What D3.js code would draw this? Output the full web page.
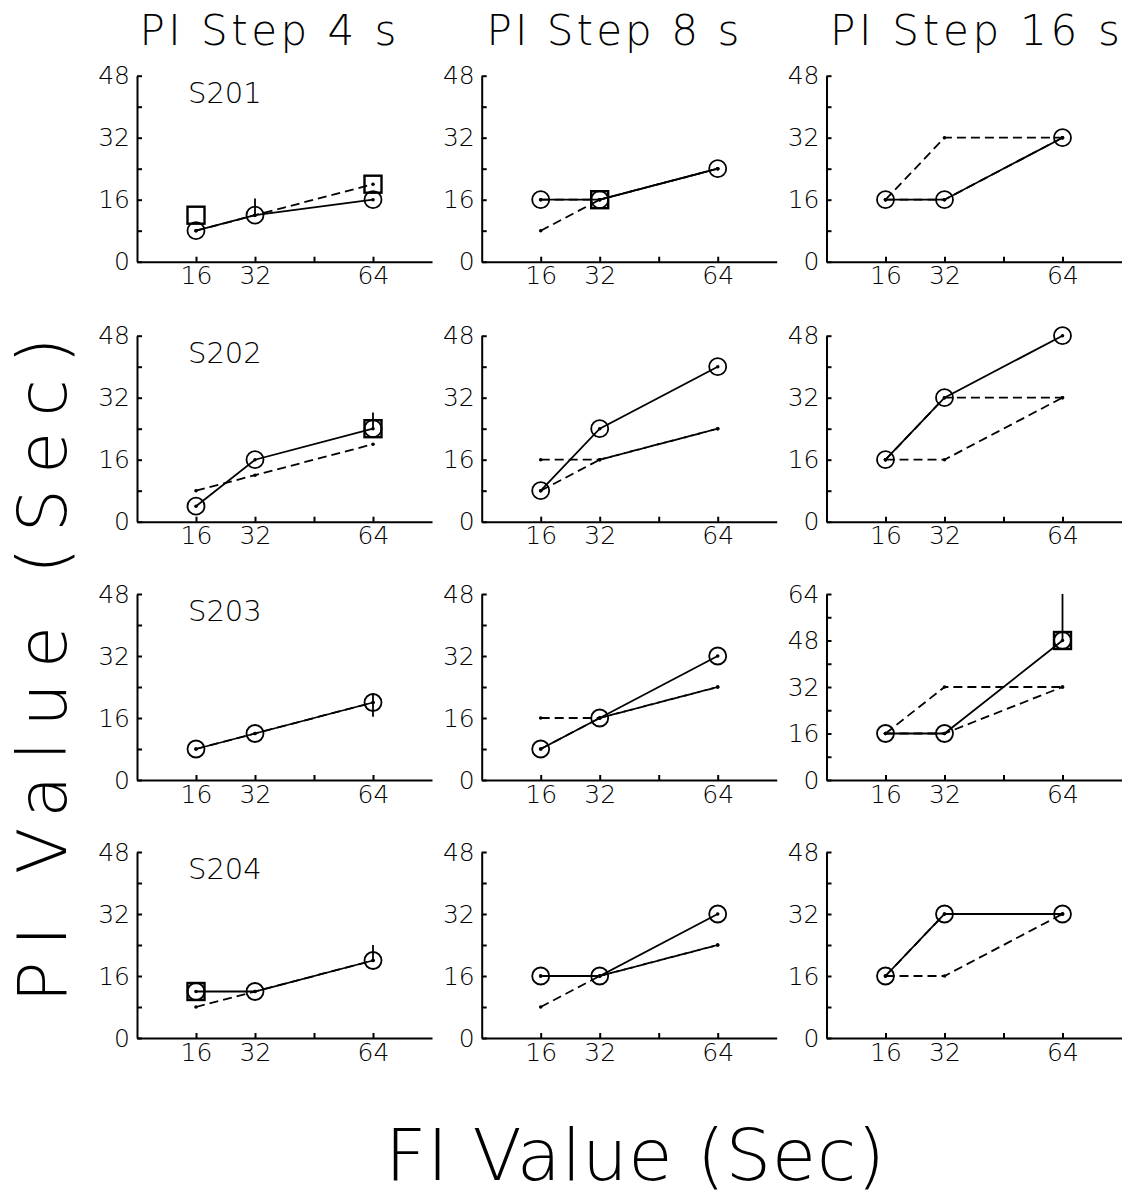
<!DOCTYPE html>
<html>
<head>
<meta charset="utf-8">
<script src="https://cdn.jsdelivr.net/npm/d3@7"></script>
<style>
  body { margin: 0; background: #fff; }
  svg { font-family: "DejaVu Sans", sans-serif; font-weight: 200; }
  .axis path, .axis line { stroke: #000; stroke-width: 2; }
  .axis text { font-family: "DejaVu Sans", sans-serif; font-weight: 200; font-size: 25px; fill: #000; }
</style>
</head>
<body>
<svg id="chart" width="1138" height="1201"></svg>
<script>
// values
const fiValues = [16, 32, 64];
const xLabelTicks = [16, 32, 64];
const stepLabels = ["PI Step 4 s", "PI Step 8 s", "PI Step 16 s"];
const subjects = ["S201", "S202", "S203", "S204"];

// obtained PI (circles, solid line), rows = subjects, cols = steps
const obtained = [
  [[8, 12, 16], [16, 16, 24], [16, 16, 32]],
  [[4, 16, 24], [8, 24, 40], [16, 32, 48]],
  [[8, 12, 20], [8, 16, 32], [16, 16, 48]],
  [[12, 12, 20], [16, 16, 32], [16, 32, 32]]
];

// predicted lines (dashed), one set per column
const predicted = [
  [[8, 12, 20]],
  [[8, 16, 24], [16, 16, 24]],
  [[16, 16, 32], [16, 32, 32]]
];

// squares: [row, col, fi, pi]
const squares = [
  [0, 0, 16, 12], [0, 0, 64, 20],
  [0, 1, 32, 16],
  [1, 0, 64, 24],
  [2, 2, 64, 48],
  [3, 0, 16, 12]
];

// error bars: [row, col, fi, low, high]
const errBars = [
  [0, 0, 32, 12, 16.3],
  [1, 0, 64, 24, 28.2],
  [2, 0, 64, 16.3, 22.4],
  [2, 2, 64, 48, 64],
  [3, 0, 64, 20, 24]
];

// y max per panel
const yMaxes = [
  [48, 48, 48],
  [48, 48, 48],
  [48, 48, 64],
  [48, 48, 48]
];

const svg = d3.select("#chart");
const colLeft = [137, 481.7, 826.5];
const rowBottom = [261.7, 521.7, 780, 1038];
const pw = 295, ph = 186;

// big titles
const titleX = [268, 613, 975];
const titleW = [257, 253, 290];
stepLabels.forEach((t, i) => {
  svg.append("text")
    .attr("x", titleX[i]).attr("y", 45)
    .attr("text-anchor", "middle")
    .attr("font-size", 42)
    .attr("textLength", titleW[i]).attr("lengthAdjust", "spacing")
    .text(t);
});

svg.append("text")
  .attr("transform", "translate(66,670) rotate(-90)")
  .attr("text-anchor", "middle")
  .attr("font-size", 68)
  .attr("textLength", 665).attr("lengthAdjust", "spacing")
  .text("PI Value (Sec)");

svg.append("text")
  .attr("x", 635).attr("y", 1180)
  .attr("text-anchor", "middle")
  .attr("font-size", 72)
  .attr("textLength", 500).attr("lengthAdjust", "spacing")
  .text("FI Value (Sec)");

const x = d3.scaleLinear().domain([0, 80]).range([0, pw]);

subjects.forEach((subj, r) => {
  for (let c = 0; c < 3; c++) {
    const yMax = yMaxes[r][c];
    const y = d3.scaleLinear().domain([0, yMax]).range([ph, 0]);
    const g = svg.append("g")
      .attr("transform", `translate(${colLeft[c]},${rowBottom[r] - ph})`);

    g.append("g").attr("class", "axis")
      .attr("transform", `translate(0,${ph})`)
      .call(d3.axisBottom(x).tickValues([16, 32, 48, 64])
        .tickSizeInner(-5).tickSizeOuter(0).tickPadding(5)
        .tickFormat(d => xLabelTicks.includes(d) ? d : ""));

    g.append("g").attr("class", "axis")
      .call(d3.axisLeft(y).tickValues(d3.range(0, yMax + 1, 8))
        .tickSizeInner(-5).tickSizeOuter(0).tickPadding(7)
        .tickFormat(d => d % 16 === 0 ? d : ""));
    g.selectAll(".axis .domain").attr("fill", "none");

    if (c === 0) {
      g.append("text")
        .attr("x", 51).attr("y", 27)
        .attr("font-size", 29)
        .text(subj);
    }

    const line = d3.line().x((d, i) => x(fiValues[i])).y(d => y(d));

    predicted[c].forEach(p => {
      g.append("path").attr("d", line(p))
        .attr("fill", "none").attr("stroke", "#000")
        .attr("stroke-width", 1.8).attr("stroke-dasharray", "9,5");
      g.selectAll(null).data(p).enter().append("circle")
        .attr("cx", (d, i) => x(fiValues[i])).attr("cy", d => y(d))
        .attr("r", 1.8).attr("fill", "#000");
    });

    const obs = obtained[r][c];
    g.append("path").attr("d", line(obs))
      .attr("fill", "none").attr("stroke", "#000").attr("stroke-width", 1.8);

    errBars.filter(e => e[0] === r && e[1] === c).forEach(e => {
      g.append("line")
        .attr("x1", x(e[2])).attr("x2", x(e[2]))
        .attr("y1", y(e[3])).attr("y2", y(e[4]))
        .attr("stroke", "#000").attr("stroke-width", 1.8);
    });

    squares.filter(s => s[0] === r && s[1] === c).forEach(s => {
      g.append("rect")
        .attr("x", x(s[2]) - 8.5).attr("y", y(s[3]) - 8.5)
        .attr("width", 17).attr("height", 17)
        .attr("fill", "none").attr("stroke", "#000").attr("stroke-width", 2.4);
    });

    g.selectAll(null).data(obs).enter().append("circle")
      .attr("cx", (d, i) => x(fiValues[i])).attr("cy", d => y(d))
      .attr("r", 8.5).attr("fill", "none")
      .attr("stroke", "#000").attr("stroke-width", 1.8);
    g.selectAll(null).data(obs).enter().append("circle")
      .attr("cx", (d, i) => x(fiValues[i])).attr("cy", d => y(d))
      .attr("r", 1.8).attr("fill", "#000");
  }
});
</script>
</body>
</html>
